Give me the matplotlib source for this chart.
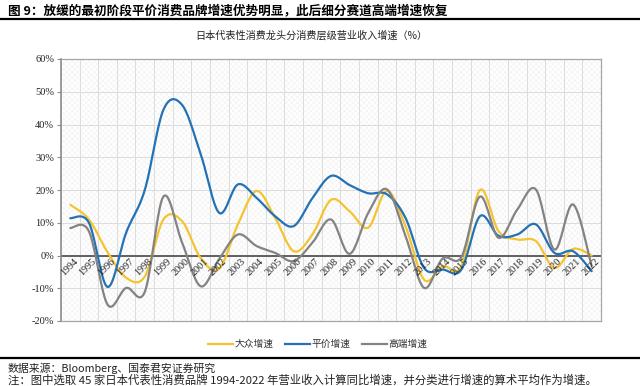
import matplotlib
matplotlib.use("Agg")
import matplotlib.pyplot as plt
from matplotlib.patches import Rectangle
from matplotlib.lines import Line2D
import numpy as np

plt.rcParams['font.family'] = ['Noto Sans CJK SC', 'DejaVu Sans']
plt.rcParams['hatch.linewidth'] = 0.4

years = [str(y) for y in range(1994, 2023)]

# growth rates, %
mass = [15.5, 11, 1, -6.8, -6.4, 11, 10.5, -0.8, -4, 9.5,
        19.7, 11.5, 1.3, 6.4, 17, 13.5, 8.5, 19.7, 9, -7.4,
        -3.3, -3.3, 20, 7.4, 4.9, 4.4, -3.8, 2, 0]
value = [11.4, 10, -9.6, 7, 20, 44.5, 46, 31, 13, 21.7,
         17.6, 12, 9, 17.5, 24.3, 21.5, 19, 18.7, 11.5, -3.8,
         -4.3, -4.3, 12, 6, 6.4, 9.5, 0.8, 1.3, -4.8]
premium = [8.4, 7.4, -15, -9.9, -11.1, 18, 4, -9.4, -1, 6.4,
           2.9, 0.8, -1.7, 3.9, 11, 0.5, 13, 20.2, 6, -9.9,
           -0.9, -0.5, 18, 5.4, 14, 20.2, 1.8, 15.6, -3.3]

series_names = ['大众增速', '平价增速', '高端增速']
colors = ['#F5C330', '#2272B5', '#838383']

yticks = [-20, -10, 0, 10, 20, 30, 40, 50, 60]


def smooth(x, y, n=20):
    # Excel-like smoothed line (Catmull-Rom through Bezier segments)
    x = np.asarray(x, float)
    y = np.asarray(y, float)
    px = np.concatenate([[x[0]], x, [x[-1]]])
    py = np.concatenate([[y[0]], y, [y[-1]]])
    t = np.linspace(0, 1, n)[:, None]
    xs, ys = [], []
    for i in range(1, len(px) - 2):
        p0 = np.array([px[i], py[i]])
        p3 = np.array([px[i + 1], py[i + 1]])
        c1 = p0 + (p3 - np.array([px[i - 1], py[i - 1]])) / 6
        c2 = p3 - (np.array([px[i + 2], py[i + 2]]) - p0) / 6
        b = ((1 - t) ** 3) * p0 + 3 * ((1 - t) ** 2) * t * c1 + 3 * (1 - t) * t ** 2 * c2 + t ** 3 * p3
        xs.append(b[:, 0])
        ys.append(b[:, 1])
    return np.concatenate(xs), np.concatenate(ys)


fig = plt.figure(figsize=(6.4, 3.86), dpi=100)
ax = fig.add_axes([61 / 640, 65 / 386, 540 / 640, 262 / 386])

# light textured background
ax.add_patch(Rectangle((0, 0), 1, 1, transform=ax.transAxes, facecolor='white',
                       edgecolor='#f0f0f0', hatch='xxxxxx', lw=0, zorder=0))

xpos = np.arange(len(years))
for data, c in zip([mass, value, premium], colors):
    sx, sy = smooth(xpos, data)
    ax.plot(sx, sy, color=c, lw=1.6, zorder=3, solid_capstyle='round')

ax.set_xlim(-0.5, len(years) - 0.5)
ax.set_ylim(-20, 60)
ax.set_yticks(yticks)
ax.set_yticklabels([f'{v}%' for v in yticks], family='Liberation Serif', fontsize=7.5)
ax.set_xticks([])
ax.set_xticks(np.arange(len(years) + 1) - 0.5, minor=True)
ax.tick_params(axis='x', which='both', length=0)
ax.tick_params(axis='y', length=3, color='#8c8c8c', pad=2, labelcolor='#222222')
ax.grid(axis='y', color='#dcdcdc', lw=0.7, zorder=1)
ax.grid(axis='x', which='minor', color='#dcdcdc', lw=0.7, zorder=1)
ax.set_axisbelow(True)
ax.axhline(0, color='#606060', lw=1.4, zorder=2)

for side in ['top', 'right', 'bottom']:
    ax.spines[side].set_color('#a6a6a6')
    ax.spines[side].set_linewidth(0.9)
ax.spines['left'].set_color('#8c8c8c')
ax.spines['left'].set_linewidth(1.2)

for i, lab in enumerate(years):
    ax.annotate(lab, xy=(i, 0), xytext=(2, -1), textcoords='offset points',
                rotation=45, ha='right', va='top', rotation_mode='anchor',
                family='Liberation Serif', fontsize=7.3, color='#222222', zorder=4)

# titles and notes
fig.text(8 / 640, 1 - 11 / 386, '图 9：放缓的最初阶段平价消费品牌增速优势明显，此后细分赛道高端增速恢复',
         fontsize=9.1, fontweight='bold', va='center', ha='left')
fig.add_artist(Line2D([0, 1], [1 - 18.5 / 386] * 2, color='black', lw=1.6))
fig.text(311 / 640, 1 - 35 / 386, '日本代表性消费龙头分消费层级营业收入增速（%）',
         fontsize=7.3, ha='center', va='center', color='#222222')

handles = [Line2D([], [], color=c, lw=1.6) for c in colors]
fig.legend(handles, series_names, loc='center', bbox_to_anchor=(318 / 640, 1 - 344 / 386),
           ncol=3, frameon=False, fontsize=7, handlelength=2.5, handletextpad=0.2,
           columnspacing=1.2, labelcolor='#333333')

fig.add_artist(Line2D([0, 1], [1 - 358 / 386] * 2, color='black', lw=1.6))
fig.text(8 / 640, 1 - 368 / 386, '数据来源：Bloomberg、国泰君安证券研究',
         fontsize=7.8, ha='left', va='center', color='#222222')
fig.text(8 / 640, 1 - 380 / 386,
         '注：图中选取 45 家日本代表性消费品牌 1994-2022 年营业收入计算同比增速，并分类进行增速的算术平均作为增速。',
         fontsize=8.2, ha='left', va='center', color='#222222')

fig.savefig('out.png', dpi=100)
